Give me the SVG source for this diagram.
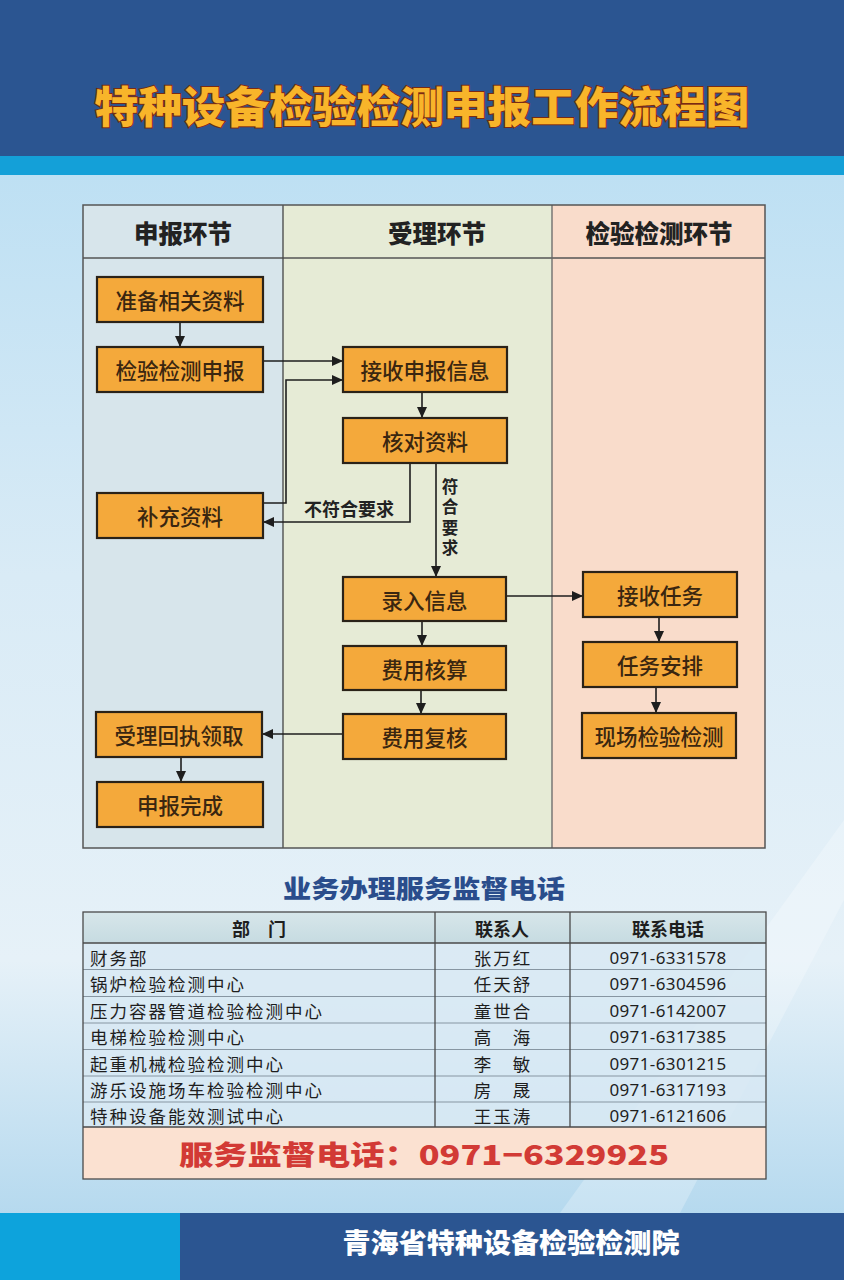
<svg xmlns="http://www.w3.org/2000/svg" width="844" height="1280" viewBox="0 0 844 1280">
<defs>
<linearGradient id="bg" x1="0" y1="0" x2="0" y2="1">
<stop offset="0" stop-color="#b2dbf2"/>
<stop offset="0.45" stop-color="#d9ebf6"/>
<stop offset="0.75" stop-color="#e6f1f8"/>
<stop offset="1" stop-color="#a9d3ec"/>
</linearGradient>
<linearGradient id="thead" x1="0" y1="0" x2="0" y2="1">
<stop offset="0" stop-color="#d7e6ea"/>
<stop offset="1" stop-color="#c6dbe1"/>
</linearGradient>
<marker id="arr" markerWidth="12" markerHeight="10" refX="11" refY="5" orient="auto" markerUnits="userSpaceOnUse">
<path d="M0,0 L11,5 L0,10 Z" fill="#1e1e1e"/>
</marker>
<style>
.box rect{fill:#f4a93b;stroke:#2a2218;stroke-width:2.2}
.box text{font-family:"Noto Sans CJK SC","Noto Sans",sans-serif;font-size:21.5px;fill:#3a2610;text-anchor:middle;dominant-baseline:central;font-weight:500}
.lane{font-family:"Noto Sans CJK SC",sans-serif;font-size:24.5px;font-weight:900;fill:#222;text-anchor:middle;dominant-baseline:central}
.conn path{fill:none;stroke:#1e1e1e;stroke-width:1.6;marker-end:url(#arr)}
.lbl{font-family:"Noto Sans CJK SC",sans-serif;font-size:18px;font-weight:700;fill:#222;text-anchor:middle;dominant-baseline:central}
.vl{font-family:"Noto Sans CJK SC",sans-serif;font-size:16.5px;font-weight:700;fill:#222;writing-mode:vertical-rl;letter-spacing:4px}
.td{font-family:"Noto Sans CJK SC","Noto Sans",sans-serif;font-size:17.5px;letter-spacing:2px;fill:#1e1e1e;dominant-baseline:central}
.num{font-family:"Noto Sans","DejaVu Sans",sans-serif;font-size:17px;letter-spacing:0.4px;fill:#1e1e1e;text-anchor:middle;dominant-baseline:central}
.th{font-family:"Noto Sans CJK SC",sans-serif;font-size:18px;font-weight:700;fill:#1e1e1e;text-anchor:middle;dominant-baseline:central}
</style>
</defs>

<!-- background -->
<rect x="0" y="0" width="844" height="1280" fill="url(#bg)"/>
<polygon points="560,1213 680,1213 844,900 844,820" fill="#ffffff" opacity="0.25"/>
<rect x="0" y="0" width="844" height="156" fill="#2b5591"/>
<rect x="0" y="156" width="844" height="19" fill="#14a0d8"/>
<text x="422" y="104" text-anchor="middle" dominant-baseline="central" font-family="Noto Sans CJK SC,sans-serif" font-size="43" font-weight="900" fill="#f8b52a" stroke="#7a2a12" stroke-width="2" paint-order="stroke" textLength="655" lengthAdjust="spacingAndGlyphs">特种设备检验检测申报工作流程图</text>

<!-- swimlanes -->
<g id="lanes">
<rect x="83" y="205" width="200" height="643" fill="#d7e5eb"/>
<rect x="283" y="205" width="269" height="643" fill="#e6ebd6"/>
<rect x="552" y="205" width="213" height="643" fill="#f9dccb"/>
<line x1="83" y1="258" x2="765" y2="258" stroke="#555" stroke-width="1.5"/>
<line x1="283" y1="205" x2="283" y2="848" stroke="#444" stroke-width="1.3"/>
<line x1="552" y1="205" x2="552" y2="848" stroke="#666" stroke-width="1.3"/>
<rect x="83" y="205" width="682" height="643" fill="none" stroke="#555" stroke-width="1.5"/>
<text class="lane" x="183" y="232">申报环节</text>
<text class="lane" x="437" y="232">受理环节</text>
<text class="lane" x="659" y="232">检验检测环节</text>
</g>

<!-- connectors -->
<g id="connectors" class="conn">
<path d="M180,322 V347"/>
<path d="M263,361 H343"/>
<path d="M263,503 H286 V380 H343"/>
<path d="M410,463 V522 H263"/>
<path d="M436,463 V577"/>
<path d="M422,392 V418"/>
<path d="M506,596 H583"/>
<path d="M422,621 V646"/>
<path d="M421,690 V714"/>
<path d="M343,734 H262"/>
<path d="M181,757 V782"/>
<path d="M659,617 V642"/>
<path d="M656,687 V713"/>
</g>
<g id="edge-labels">
<text class="lbl" x="349" y="508">不符合要求</text>
<text class="vl" x="450" y="478">符合要求</text>
</g>

<!-- nodes -->
<g id="n1" class="box"><rect x="97" y="277" width="166" height="45"/><text x="180" y="299.5">准备相关资料</text></g>
<g id="n2" class="box"><rect x="97" y="347" width="166" height="45"/><text x="180" y="369.5">检验检测申报</text></g>
<g id="n3" class="box"><rect x="97" y="493" width="166" height="45"/><text x="180" y="515.5">补充资料</text></g>
<g id="n4" class="box"><rect x="96" y="712" width="166" height="45"/><text x="179" y="734.5">受理回执领取</text></g>
<g id="n5" class="box"><rect x="97" y="782" width="166" height="45"/><text x="180" y="804.5">申报完成</text></g>
<g id="n6" class="box"><rect x="343" y="347" width="164" height="45"/><text x="425" y="369.5">接收申报信息</text></g>
<g id="n7" class="box"><rect x="343" y="418" width="164" height="45"/><text x="425" y="440.5">核对资料</text></g>
<g id="n8" class="box"><rect x="343" y="577" width="163" height="44"/><text x="424.5" y="599">录入信息</text></g>
<g id="n9" class="box"><rect x="343" y="646" width="163" height="44"/><text x="424.5" y="668">费用核算</text></g>
<g id="n10" class="box"><rect x="343" y="714" width="163" height="45"/><text x="424.5" y="736.5">费用复核</text></g>
<g id="n11" class="box"><rect x="583" y="572" width="154" height="45"/><text x="660" y="594.5">接收任务</text></g>
<g id="n12" class="box"><rect x="583" y="642" width="154" height="45"/><text x="660" y="664.5">任务安排</text></g>
<g id="n13" class="box"><rect x="582" y="713" width="154" height="45"/><text x="659" y="735.5">现场检验检测</text></g>

<!-- contact table -->
<g id="table">
<text x="424" y="887" text-anchor="middle" dominant-baseline="central" font-family="Noto Sans CJK SC,sans-serif" font-size="25" font-weight="900" fill="#2a4d8c" textLength="282" lengthAdjust="spacingAndGlyphs">业务办理服务监督电话</text>
<rect x="83" y="912" width="683" height="31" fill="url(#thead)"/>
<rect x="83" y="943" width="683" height="184" fill="#d8e9f3" opacity="0.85"/>
<rect x="83" y="1127" width="683" height="52" fill="#fbe1d1"/>
<g stroke="#8796a2" stroke-width="1">
<line x1="83" y1="969.5" x2="766" y2="969.5"/>
<line x1="83" y1="996.5" x2="766" y2="996.5"/>
<line x1="83" y1="1023" x2="766" y2="1023"/>
<line x1="83" y1="1049.5" x2="766" y2="1049.5"/>
<line x1="83" y1="1076" x2="766" y2="1076"/>
<line x1="83" y1="1102" x2="766" y2="1102"/>
</g>
<g stroke="#4a4a4a" stroke-width="1.3" fill="none">
<line x1="83" y1="943" x2="766" y2="943"/>
<line x1="83" y1="1127" x2="766" y2="1127"/>
<line x1="435" y1="912" x2="435" y2="1127"/>
<line x1="570" y1="912" x2="570" y2="1127"/>
<rect x="83" y="912" width="683" height="267"/>
</g>
<text class="th" x="259" y="928">部　门</text>
<text class="th" x="502" y="928">联系人</text>
<text class="th" x="668" y="928">联系电话</text>

<text class="td" x="90" y="957">财务部</text>
<text class="td" x="90" y="983">锅炉检验检测中心</text>
<text class="td" x="90" y="1010">压力容器管道检验检测中心</text>
<text class="td" x="90" y="1036">电梯检验检测中心</text>
<text class="td" x="90" y="1063">起重机械检验检测中心</text>
<text class="td" x="90" y="1089">游乐设施场车检验检测中心</text>
<text class="td" x="90" y="1115">特种设备能效测试中心</text>

<g class="td" text-anchor="middle">
<text x="503" y="957">张万红</text>
<text x="503" y="983">任天舒</text>
<text x="503" y="1010">童世合</text>
<text x="503" y="1036">高　海</text>
<text x="503" y="1063">李　敏</text>
<text x="503" y="1089">房　晟</text>
<text x="503" y="1115">王玉涛</text>
</g>

<text class="num" x="668" y="957">0971-6331578</text>
<text class="num" x="668" y="983">0971-6304596</text>
<text class="num" x="668" y="1010">0971-6142007</text>
<text class="num" x="668" y="1036">0971-6317385</text>
<text class="num" x="668" y="1063">0971-6301215</text>
<text class="num" x="668" y="1089">0971-6317193</text>
<text class="num" x="668" y="1115">0971-6121606</text>

<text x="424" y="1153" text-anchor="middle" dominant-baseline="central" font-family="Noto Sans CJK SC,sans-serif" font-size="27" font-weight="900" fill="#d23a35" textLength="490" lengthAdjust="spacingAndGlyphs">服务监督电话：0971−6329925</text>
</g>

<!-- footer -->
<rect x="0" y="1213" width="844" height="67" fill="#2b5591"/>
<rect x="0" y="1213" width="180" height="67" fill="#0da3dc"/>
<text x="511" y="1241" text-anchor="middle" dominant-baseline="central" font-family="Noto Sans CJK SC,sans-serif" font-size="27" font-weight="900" fill="#ffffff" textLength="337" lengthAdjust="spacingAndGlyphs">青海省特种设备检验检测院</text>
</svg>
